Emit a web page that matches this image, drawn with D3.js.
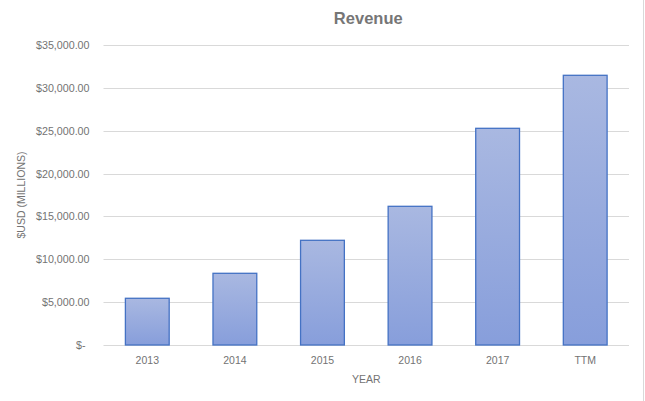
<!DOCTYPE html>
<html>
<head>
<meta charset="utf-8">
<script src="https://cdn.jsdelivr.net/npm/d3@7"></script>
<style>
  body { margin: 0; background: #fff; }
  text { font-family: "Liberation Sans", Arial, sans-serif; }
</style>
</head>
<body>
<div id="chart"></div>
<script>
// chart data
const years = ["2013", "2014", "2015", "2016", "2017", "TTM"];
const revenue = [5450, 8365, 12215, 16180, 25280, 31465];
const yTicks = [0, 5000, 10000, 15000, 20000, 25000, 30000, 35000];

const width = 645, height = 401;
const margin = { top: 45, right: 16, bottom: 56, left: 103.5 };

const svg = d3.select("#chart")
  .append("svg")
  .attr("width", width)
  .attr("height", height);

// gradient for the bars, light at top, darker at the bottom
const grad = svg.append("defs").append("linearGradient")
  .attr("id", "barFill")
  .attr("x1", 0).attr("y1", 0).attr("x2", 0).attr("y2", 1);
grad.append("stop").attr("offset", "0%").attr("stop-color", "#a9b8e1");
grad.append("stop").attr("offset", "100%").attr("stop-color", "#879edb");

const x = d3.scaleBand()
  .domain(years)
  .range([margin.left, width - margin.right])
  .paddingInner(0.5)
  .paddingOuter(0.25);

const y = d3.scaleLinear()
  .domain([0, 35000])
  .range([height - margin.bottom, margin.top]);

const fmt = d3.format("$,.2f");

// gridlines
svg.append("g")
  .selectAll("line")
  .data(yTicks)
  .enter()
  .append("line")
  .attr("x1", margin.left)
  .attr("x2", width - margin.right)
  .attr("y1", d => Math.round(y(d)) + 0.5)
  .attr("y2", d => Math.round(y(d)) + 0.5)
  .attr("stroke", "#d9d9d9")
  .attr("stroke-width", 1);

// y axis labels
const yAxis = svg.append("g")
  .attr("transform", `translate(${margin.left - 14},0)`)
  .call(d3.axisLeft(y).tickValues(yTicks).tickSize(0).tickPadding(0)
    .tickFormat(d => d === 0 ? "$-" : fmt(d)));
yAxis.select(".domain").remove();
yAxis.selectAll("text")
  .attr("fill", "#737373")
  .style("font-size", "10.7px")
  .attr("dx", d => d === 0 ? -4 : 0);

// bars
svg.append("g")
  .selectAll("rect")
  .data(revenue)
  .enter()
  .append("rect")
  .attr("x", (d, i) => x(years[i]))
  .attr("y", d => y(d))
  .attr("width", x.bandwidth())
  .attr("height", d => y(0) - y(d))
  .attr("fill", "url(#barFill)")
  .attr("stroke", "#4472c4")
  .attr("stroke-width", 1.3);

// x axis labels
const xAxis = svg.append("g")
  .attr("transform", `translate(0,${y(0)})`)
  .call(d3.axisBottom(x).tickSize(0).tickPadding(12));
xAxis.select(".domain").remove();
xAxis.selectAll("text")
  .attr("fill", "#737373")
  .style("font-size", "10.5px");

// titles
svg.append("text")
  .attr("x", (margin.left + width - margin.right) / 2 + 2)
  .attr("y", 24)
  .attr("text-anchor", "middle")
  .attr("fill", "#767676")
  .style("font-size", "16.5px")
  .style("font-weight", "bold")
  .text("Revenue");

svg.append("text")
  .attr("x", (margin.left + width - margin.right) / 2)
  .attr("y", 383)
  .attr("text-anchor", "middle")
  .attr("fill", "#737373")
  .style("font-size", "10.5px")
  .text("YEAR");

svg.append("text")
  .attr("transform", `translate(25,${(y(0) + y(35000)) / 2}) rotate(-90)`)
  .attr("text-anchor", "middle")
  .attr("fill", "#737373")
  .style("font-size", "10.5px")
  .text("$USD (MILLIONS)");

// chart border on the right edge
svg.append("line")
  .attr("x1", width - 1.5).attr("x2", width - 1.5)
  .attr("y1", 0).attr("y2", height)
  .attr("stroke", "#d9d9d9");
</script>
</body>
</html>
